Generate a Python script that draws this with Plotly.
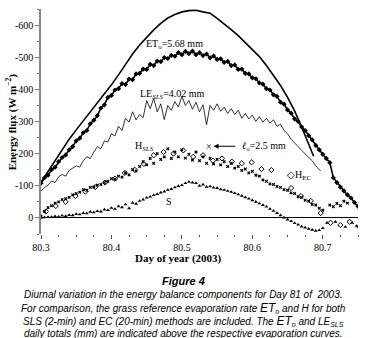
import plotly.graph_objects as go

# ---------------- data ----------------
rnet_t = [80.30, 80.31, 80.32, 80.33, 80.34, 80.35, 80.36, 80.37, 80.38, 80.39,
          80.40, 80.41, 80.42, 80.43, 80.44, 80.45, 80.46, 80.47, 80.48, 80.49,
          80.50, 80.51, 80.52, 80.53, 80.54, 80.55, 80.56, 80.57, 80.58, 80.59,
          80.60, 80.61, 80.62, 80.63, 80.64, 80.65, 80.66, 80.67, 80.68, 80.687]
rnet = [-111, -145, -178, -212, -245, -274, -302, -330, -357, -385,
        -414, -445, -478, -510, -538, -563, -585, -605, -622, -633,
        -641, -645, -646, -641, -637, -621, -604, -586, -567, -546,
        -524, -502, -474, -444, -412, -375, -333, -283, -232, -192]

t2 = [round(80.300 + 0.005 * i, 3) for i in range(81)]  # 80.300 ... 80.700

et0 = [-108, -125, -133, -150, -158, -175, -188, -196, -212, -222,
       -240, -248, -265, -272, -293, -304, -318, -342, -352, -375,
       -381, -398, -402, -418, -415, -432, -430, -448, -450, -463,
       -462, -478, -474, -488, -486, -499, -496, -506, -503, -514,
       -508, -518, -511, -519, -508, -514, -505, -510, -498, -504,
       -493, -495, -484, -487, -474, -476, -462, -463, -450, -448,
       -436, -433, -420, -416, -402, -398, -383, -378, -360, -354,
       -336, -326, -308, -300, -283, -272, -256, -243, -226, -212,
       -198]
et0_tail_t = [80.705, 80.710, 80.715, 80.720, 80.725, 80.730, 80.735, 80.740, 80.745, 80.750, 80.755]
et0_tail = [-185, -172, -125, -110, -96, -84, -72, -62, -48, -36, -22]

le_t = [round(80.300 + 0.005 * i, 3) for i in range(80)] + [80.697]
le_sls = [-84, -95, -102, -115, -110, -128, -135, -130, -148, -155,
          -162, -158, -178, -190, -185, -205, -222, -215, -240, -236,
          -262, -255, -285, -272, -310, -298, -330, -305, -322, -312,
          -365, -340, -372, -330, -355, -306, -350, -335, -362, -345,
          -378, -350, -365, -338, -360, -330, -352, -290, -350, -335,
          -355, -332, -345, -325, -340, -322, -335, -310, -325, -308,
          -320, -300, -315, -298, -310, -295, -305, -285, -292, -272,
          -262, -245, -232, -222, -210, -200, -188, -178, -162, -150,
          -146]

h_sls = [-6, -20, -32, -38, -46, -50, -57, -60, -64, -72,
         -76, -80, -88, -86, -95, -96, -102, -104, -110, -114,
         -122, -120, -130, -127, -140, -134, -150, -146, -160, -175,
         -165, -185, -170, -200, -182, -190, -215, -185, -205, -190,
         -212, -186, -198, -180, -205, -178, -190, -170, -185, -168,
         -182, -165, -175, -160, -170, -155, -160, -148, -152, -140,
         -145, -133, -130, -118, -114, -106, -104, -98, -95, -88,
         -86, -78, -76, -66, -64, -55, -52, -42, -40, -30,
         -24]
h_sls_tail_t = [80.710, 80.715, 80.720, 80.725, 80.730, 80.735]
h_sls_tail = [-40, -35, -45, -38, -52, -46]

s_flux = [0, -2, -3, -3, -5, -4, -7, -6, -9, -8,
          -12, -11, -15, -14, -19, -17, -21, -20, -26, -24,
          -31, -28, -36, -33, -42, -30, -47, -44, -53, -57,
          -63, -66, -71, -74, -79, -82, -87, -90, -95, -99,
          -102, -108, -112, -110, -108, -100, -104, -97, -98, -94,
          -93, -89, -87, -84, -81, -77, -73, -69, -64, -60,
          -55, -50, -45, -40, -35, -28, -22, -15, -8, -1,
          5, 10, 16, 21, 27, 30, 34, 37, 40, 38,
          32]
s_tail_t = [80.706, 80.718, 80.732, 80.742, 80.748]
s_tail = [15, 12, 28, 15, 25]

hec_t = [80.307, 80.321, 80.335, 80.349, 80.363, 80.377, 80.391, 80.405, 80.419, 80.433,
         80.446, 80.460, 80.474, 80.488, 80.502, 80.516, 80.530, 80.544, 80.557, 80.571,
         80.585, 80.599, 80.613, 80.627, 80.655, 80.669, 80.683, 80.697, 80.711, 80.725,
         80.738, 80.752]
hec = [-20, -37, -50, -68, -82, -96, -110, -122, -140, -150,
       -168, -195, -205, -200, -210, -190, -195, -178, -185, -175,
       -170, -173, -152, -149, -93, -68, -53, -15, 15, 22,
       12, 28]

x_ticks = [80.3, 80.4, 80.5, 80.6, 80.7]
x_ticktext = ["80.3", "80.4", "80.5", "80.6", "80.7"]
y_ticks = [-600, -500, -400, -300, -200, -100, 0]
y_ticktext = ["-600", "-500", "-400", "-300", "-200", "-100", "0"]

# ---------------- figure ----------------
SERIF = "Liberation Serif"
fig = go.Figure()

fig.add_trace(go.Scatter(x=rnet_t, y=rnet, mode="lines",
                         line=dict(color="black", width=1.6), hoverinfo="skip"))
fig.add_trace(go.Scatter(x=le_t, y=le_sls, mode="lines",
                         line=dict(color="black", width=0.8), hoverinfo="skip"))
fig.add_trace(go.Scatter(x=t2 + et0_tail_t, y=et0 + et0_tail, mode="lines+markers",
                         line=dict(color="black", width=1.6),
                         marker=dict(symbol="diamond", size=4, color="black"), hoverinfo="skip"))
fig.add_trace(go.Scatter(x=t2 + h_sls_tail_t, y=h_sls + h_sls_tail, mode="markers",
                         marker=dict(symbol="x", size=3, color="black"), hoverinfo="skip"))
fig.add_trace(go.Scatter(x=t2 + s_tail_t, y=s_flux + s_tail, mode="markers",
                         marker=dict(symbol="triangle-up", size=3.5, color="black"), hoverinfo="skip"))
fig.add_trace(go.Scatter(x=hec_t, y=hec, mode="markers",
                         marker=dict(symbol="diamond-open", size=4, color="black",
                                     line=dict(width=1, color="black")), hoverinfo="skip"))

lab_font = dict(family=SERIF, size=10, color="black")
anns = [
    dict(x=80.511, y=-652, text="−R<sub>net</sub>", xanchor="left", yanchor="middle"),
    dict(x=80.446, y=-540, text="ET<sub>o</sub>=5.68 mm", xanchor="left", yanchor="middle"),
    dict(x=80.437, y=-385, text="LE<sub><i>SLS</i></sub>=4.02 mm", xanchor="left", yanchor="middle"),
    dict(x=80.430, y=-222, text="H<sub><i>SLS</i></sub>", xanchor="left", yanchor="middle"),
    dict(x=80.646, y=-133, text="◇H<sub>EC</sub>", xanchor="left", yanchor="middle"),
    dict(x=80.475, y=-52, text="S", xanchor="left", yanchor="middle"),
    dict(x=80.538, y=-223, text="×", xanchor="center", yanchor="middle"),
    dict(x=80.582, y=-223, text="<i>ℓ</i><sub>o</sub>=2.5 mm", xanchor="left", yanchor="middle"),
]
for a in anns:
    fig.add_annotation(xref="x", yref="y", showarrow=False, font=lab_font, **a)

fig.add_annotation(xref="x", yref="y", x=80.545, y=-223, ax=80.578, ay=-223,
                   axref="x", ayref="y", text="", showarrow=True,
                   arrowhead=2, arrowsize=1, arrowwidth=1, arrowcolor="black")

# axis titles
fig.add_annotation(xref="paper", yref="paper", x=-0.092, y=0.5, textangle=-90,
                   xanchor="center", yanchor="middle",
                   text="<b>Energy flux (W m<sup>−2</sup>)</b>", showarrow=False,
                   font=dict(family=SERIF, size=11, color="black"))
fig.add_annotation(xref="paper", yref="paper", x=0.435, y=-0.108,
                   xanchor="center", yanchor="middle",
                   text="<b>Day of year (2003)</b>", showarrow=False,
                   font=dict(family=SERIF, size=11, color="black"))

# caption
caption = [
    ("<b><i>Figure 4</i></b>", -0.209, 11),
    ("<i>Diurnal variation in the energy balance components for Day 81 of  2003.</i>", -0.271, 10),
    ("<i>For comparison, the grass reference evaporation rate <span style='font-size:12px'>ET</span><sub>o</sub> and H for both</i>", -0.329, 10),
    ("<i>SLS (2-min) and EC (20-min) methods are included. The <span style='font-size:12px'>ET</span><sub>o</sub> and LE<sub>SLS</sub></i>", -0.387, 10),
    ("<i>daily totals (mm) are indicated above the respective evaporation curves.</i>", -0.444, 10),
]
for txt, yy, sz in caption:
    fig.add_annotation(xref="paper", yref="paper", x=0.448, y=yy, text=txt,
                       showarrow=False, xanchor="center", yanchor="middle",
                       font=dict(family="Liberation Sans", size=sz, color="black"))

fig.update_layout(
    width=366, height=338, autosize=False,
    margin=dict(l=41, r=8, t=9, b=104),
    plot_bgcolor="white", paper_bgcolor="white",
    showlegend=False,
    xaxis=dict(range=[80.3, 80.75], tickvals=x_ticks, ticktext=x_ticktext,
               ticks="outside", ticklen=4, tickcolor="#555", showline=False,
               showgrid=False, zeroline=False,
               tickfont=dict(family=SERIF, size=10, color="black"),
               minor=dict(dtick=0.025, tick0=80.3, ticks="outside", ticklen=2, tickcolor="#555")),
    yaxis=dict(range=[50, -650], tickvals=y_ticks, ticktext=y_ticktext,
               ticks="outside", ticklen=4, tickcolor="#777", showline=True,
               linecolor="#888", linewidth=1.5, showgrid=False,
               zeroline=True, zerolinecolor="black", zerolinewidth=1,
               tickfont=dict(family=SERIF, size=10, color="black"),
               minor=dict(dtick=50, tick0=0, ticks="outside", ticklen=2, tickcolor="#777")),
)

fig.write_html("out.html", config={"displayModeBar": False},
               post_script="document.body.style.margin='0';document.body.style.overflow='hidden';")
